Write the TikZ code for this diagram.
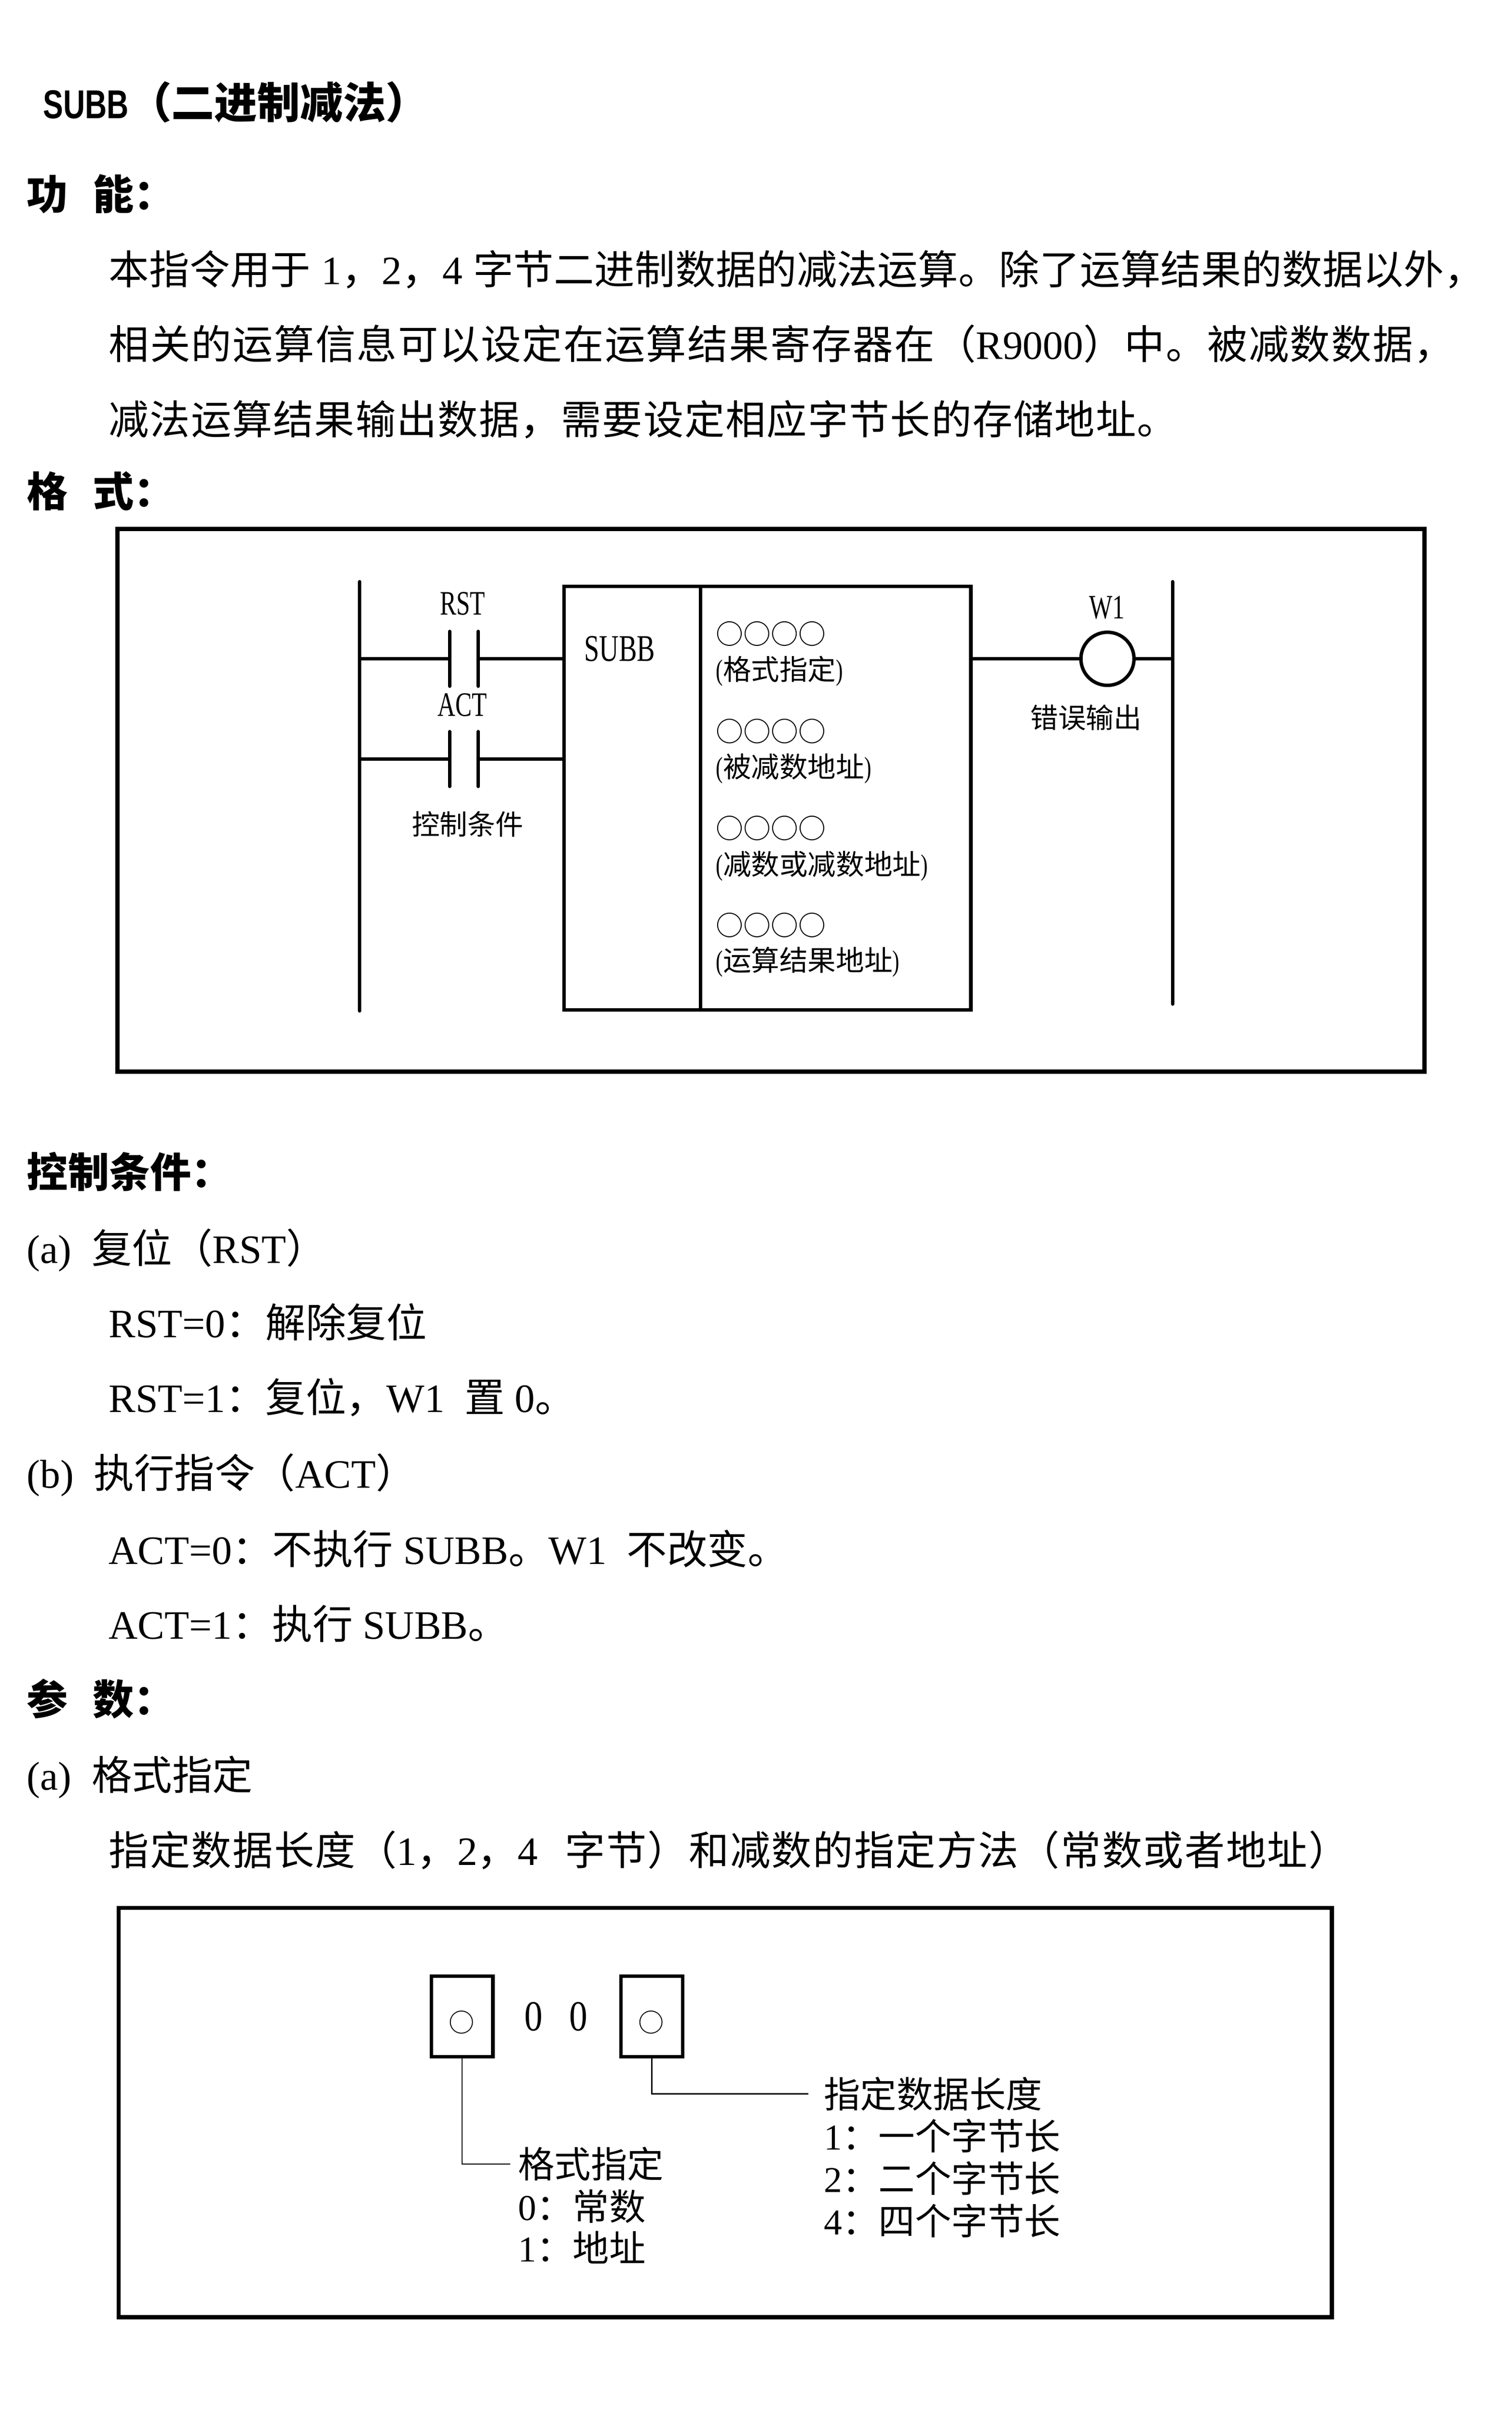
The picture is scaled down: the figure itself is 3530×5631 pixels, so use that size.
\documentclass[tikz,border=0pt]{standalone}
\usepackage{fontspec}
\setmainfont{Liberation Serif}
\newfontfamily\cjk{Noto Sans CJK SC}
\newfontfamily\dlat{Liberation Serif}[FakeStretch=0.72]
\newfontfamily\dnum{Liberation Serif}[FakeStretch=0.85]
\newfontfamily\tsans{Liberation Sans}[FakeStretch=0.75]
\newdimen\pxu \pxu=0.1mm
\newcommand\fsz[1]{\dimen0=#1\pxu\edef\tmpsz{\the\dimen0}\fontsize{\tmpsz}{\tmpsz}\selectfont}
\newcommand\C[1]{{\cjk #1}}
\newcommand\jline[2]{\hbox to #1\pxu{#2}}
\XeTeXinterchartokenstate=1
\newXeTeXintercharclass\cjkcls
\newcount\mycnt
\mycnt="3000 \loop \XeTeXcharclass\mycnt=\cjkcls \advance\mycnt by 1 \ifnum\mycnt<"3040 \repeat
\mycnt="4E00 \loop \XeTeXcharclass\mycnt=\cjkcls \advance\mycnt by 1 \ifnum\mycnt<"A000 \repeat
\mycnt="FF00 \loop \XeTeXcharclass\mycnt=\cjkcls \advance\mycnt by 1 \ifnum\mycnt<"FFF0 \repeat
\XeTeXinterchartoks\cjkcls\cjkcls={\hskip 0pt plus 1pt\relax}
\tikzset{
  txt/.style={anchor=base west, inner sep=0pt, outer sep=0pt, yshift={-0.036*#1*1mm}, font=\fsz{#1}},
  ctxt/.style={anchor=base, inner sep=0pt, outer sep=0pt, yshift={-0.036*#1*1mm}, font=\fsz{#1}},
  hd/.style={txt=96, font=\fsz{96}\cjk\bfseries},
  outerframe/.style={line width=1mm},
  wire/.style={line width=0.8mm, line cap=round},
  leadline/.style={line width=0.25mm},
  pbox/.style={draw, line width=0.8mm, minimum width=14.4mm, minimum height=18.8mm, inner sep=0pt, outer sep=0pt},
}
\begin{document}
\begin{tikzpicture}[x=0.1mm, y=-0.1mm]
\fill[white] (0,0) rectangle (3530,5631);
\useasboundingbox (0,0) rectangle (3530,5631);

% ---------- text block: top ----------
\node[txt=100, font=\fsz{100}\cjk\bfseries] (title) at (101,240) {{\fsz{94}\tsans SUBB}（二进制减法）};
\node[hd] (h1) at (63,455) {功\hspace{0.6em}能：};
\node[txt=94] (p1) at (254,630) {\jline{3212}{\C{本指令用于} 1\C{，}2\C{，}4 \C{字节二进制数据的减法运算。除了运算结果的数据以外，}}};
\node[txt=94] (p2) at (254,805) {\jline{3142}{\C{相关的运算信息可以设定在运算结果寄存器在（}R9000\C{）中。被减数数据，}}};
\node[txt=94] (p3) at (254,980) {\jline{2495}{\C{减法运算结果输出数据，需要设定相应字节长的存储地址。}}};
\node[hd] (h2) at (63,1148) {格\hspace{0.6em}式：};

% ---------- ladder diagram ----------
\draw[outerframe] (274,1235) rectangle (3326,2502);
\coordinate (LRt) at (840,1358);
\coordinate (LRb) at (840,2360);
\coordinate (RRt) at (2738,1358);
\coordinate (RRb) at (2738,2344);
\draw[wire] (LRt) -- (LRb);
\draw[wire] (RRt) -- (RRb);
\node[draw, line width=0.8mm, minimum width=95mm, minimum height=98.9mm, inner sep=0pt, outer sep=0pt, anchor=north west] (subb) at (1317,1369) {};
\coordinate (dvt) at (1636,1369);
\coordinate (dvb) at (1636,2358);
\draw[line width=0.8mm] (dvt) -- (dvb);
% rung 1 (RST)
\coordinate (r1) at (840,1538);
\coordinate (k1l) at (1050,1538);
\coordinate (k1r) at (1117,1538);
\draw[wire] (r1) -- (k1l);
\draw[wire] (k1r) -- (k1r -| subb.west);
\draw[wire] ([yshift=6.4mm]k1l) -- ([yshift=-6.4mm]k1l);
\draw[wire] ([yshift=6.4mm]k1r) -- ([yshift=-6.4mm]k1r);
% rung 2 (ACT)
\coordinate (r2) at (840,1772);
\coordinate (k2l) at (1050,1772);
\coordinate (k2r) at (1117,1772);
\draw[wire] (r2) -- (k2l);
\draw[wire] (k2r) -- (k2r -| subb.west);
\draw[wire] ([yshift=6.4mm]k2l) -- ([yshift=-6.4mm]k2l);
\draw[wire] ([yshift=6.4mm]k2r) -- ([yshift=-6.4mm]k2r);
% coil
\node[draw, circle, line width=0.8mm, minimum size=12.4mm, inner sep=0pt, outer sep=0pt] (coil) at (2586,1538) {};
\draw[wire] (subb.east |- coil.west) -- (coil.west);
\draw[wire] (coil.east) -- (coil.east -| RRt);
% labels
\node[ctxt=80, font=\fsz{80}\dlat] (lrst) at (1080,1407) {RST};
\node[ctxt=80, font=\fsz{80}\dlat] (lact) at (1080,1643) {ACT};
\node[ctxt=65, font=\fsz{65}\cjk] (lcond) at (1092,1925) {控制条件};
\node[txt=88, font=\fsz{88}\dlat] (lsubb) at (1364,1512) {SUBB};
\node[ctxt=80, font=\fsz{80}\dlat] (lw1) at (2585,1416) {W1};
\node[ctxt=65, font=\fsz{65}\cjk] (lerr) at (2536,1677) {错误输出};
\node[txt=64, font=\fsz{64}\cjk] (c1) at (1672,1481) {○○○○};
\node[txt=68, font=\fsz{68}\dlat] (d1) at (1672,1563) {(\C{\fsz{66}格式指定})};
\node[txt=64, font=\fsz{64}\cjk] (c2) at (1672,1709) {○○○○};
\node[txt=68, font=\fsz{68}\dlat] (d2) at (1672,1790) {(\C{\fsz{66}被减数地址})};
\node[txt=64, font=\fsz{64}\cjk] (c3) at (1672,1935) {○○○○};
\node[txt=68, font=\fsz{68}\dlat] (d3) at (1672,2018) {(\C{\fsz{66}减数或减数地址})};
\node[txt=64, font=\fsz{64}\cjk] (c4) at (1672,2161) {○○○○};
\node[txt=68, font=\fsz{68}\dlat] (d4) at (1672,2242) {(\C{\fsz{66}运算结果地址})};

% ---------- control conditions ----------
\node[hd] (h3) at (63,2738) {控制条件：};
\node[txt=94] (a1) at (63,2915) {(a)~ \C{复位（}RST\C{）}};
\node[txt=94] (a2) at (254,3088) {RST=0\C{：解除复位}};
\node[txt=94] (a3) at (254,3263) {RST=1\C{：复位，}W1~ \C{置} 0\C{。}};
\node[txt=94] (b1t) at (63,3440) {(b)~ \C{执行指令（}ACT\C{）}};
\node[txt=94] (b2t) at (254,3618) {ACT=0\C{：不执行} SUBB\C{。}W1~ \C{不改变。}};
\node[txt=94] (b3t) at (254,3792) {ACT=1\C{：执行} SUBB\C{。}};
\node[hd] (h4) at (63,3969) {参\hspace{0.6em}数：};
\node[txt=94] (pa) at (63,4145) {(a)~ \C{格式指定}};
\node[txt=94] (pb) at (254,4320) {\jline{2896}{\C{指定数据长度（}1\C{，}2\C{，}4~ \C{字节）和减数的指定方法（常数或者地址）}}};

% ---------- format diagram ----------
\draw[outerframe] (277,4454) rectangle (3110,5410);
\node[pbox] (bx1) at (1079,4707) {};
\node[pbox] (bx2) at (1522,4707) {};
\node[ctxt=60, font=\fsz{60}\cjk] (o1) at (1078,4722) {○};
\node[ctxt=60, font=\fsz{60}\cjk] (o2) at (1520,4722) {○};
\node[ctxt=100, font=\fsz{100}\dnum] (zz) at (1298,4705) {0\hspace{6.2mm}0};
\node[txt=85, font=\fsz{85}\cjk] (fmt) at (1210,5054) {格式指定};
\node[txt=85] (fmt0) at (1210,5153) {0\C{：常数}};
\node[txt=85] (fmt1) at (1210,5250) {1\C{：地址}};
\node[txt=85, font=\fsz{85}\cjk] (len) at (1924,4890) {指定数据长度};
\node[txt=85] (len1) at (1924,4988) {1\C{：一个字节长}};
\node[txt=85] (len2) at (1924,5087) {2\C{：二个字节长}};
\node[txt=85] (len4) at (1924,5186) {4\C{：四个字节长}};
\draw[leadline] (bx1.south) |- ([xshift=-1.9mm]fmt.west);
\draw[leadline] (bx2.south) |- ([xshift=-3.7mm]len.west);
\end{tikzpicture}
\end{document}
